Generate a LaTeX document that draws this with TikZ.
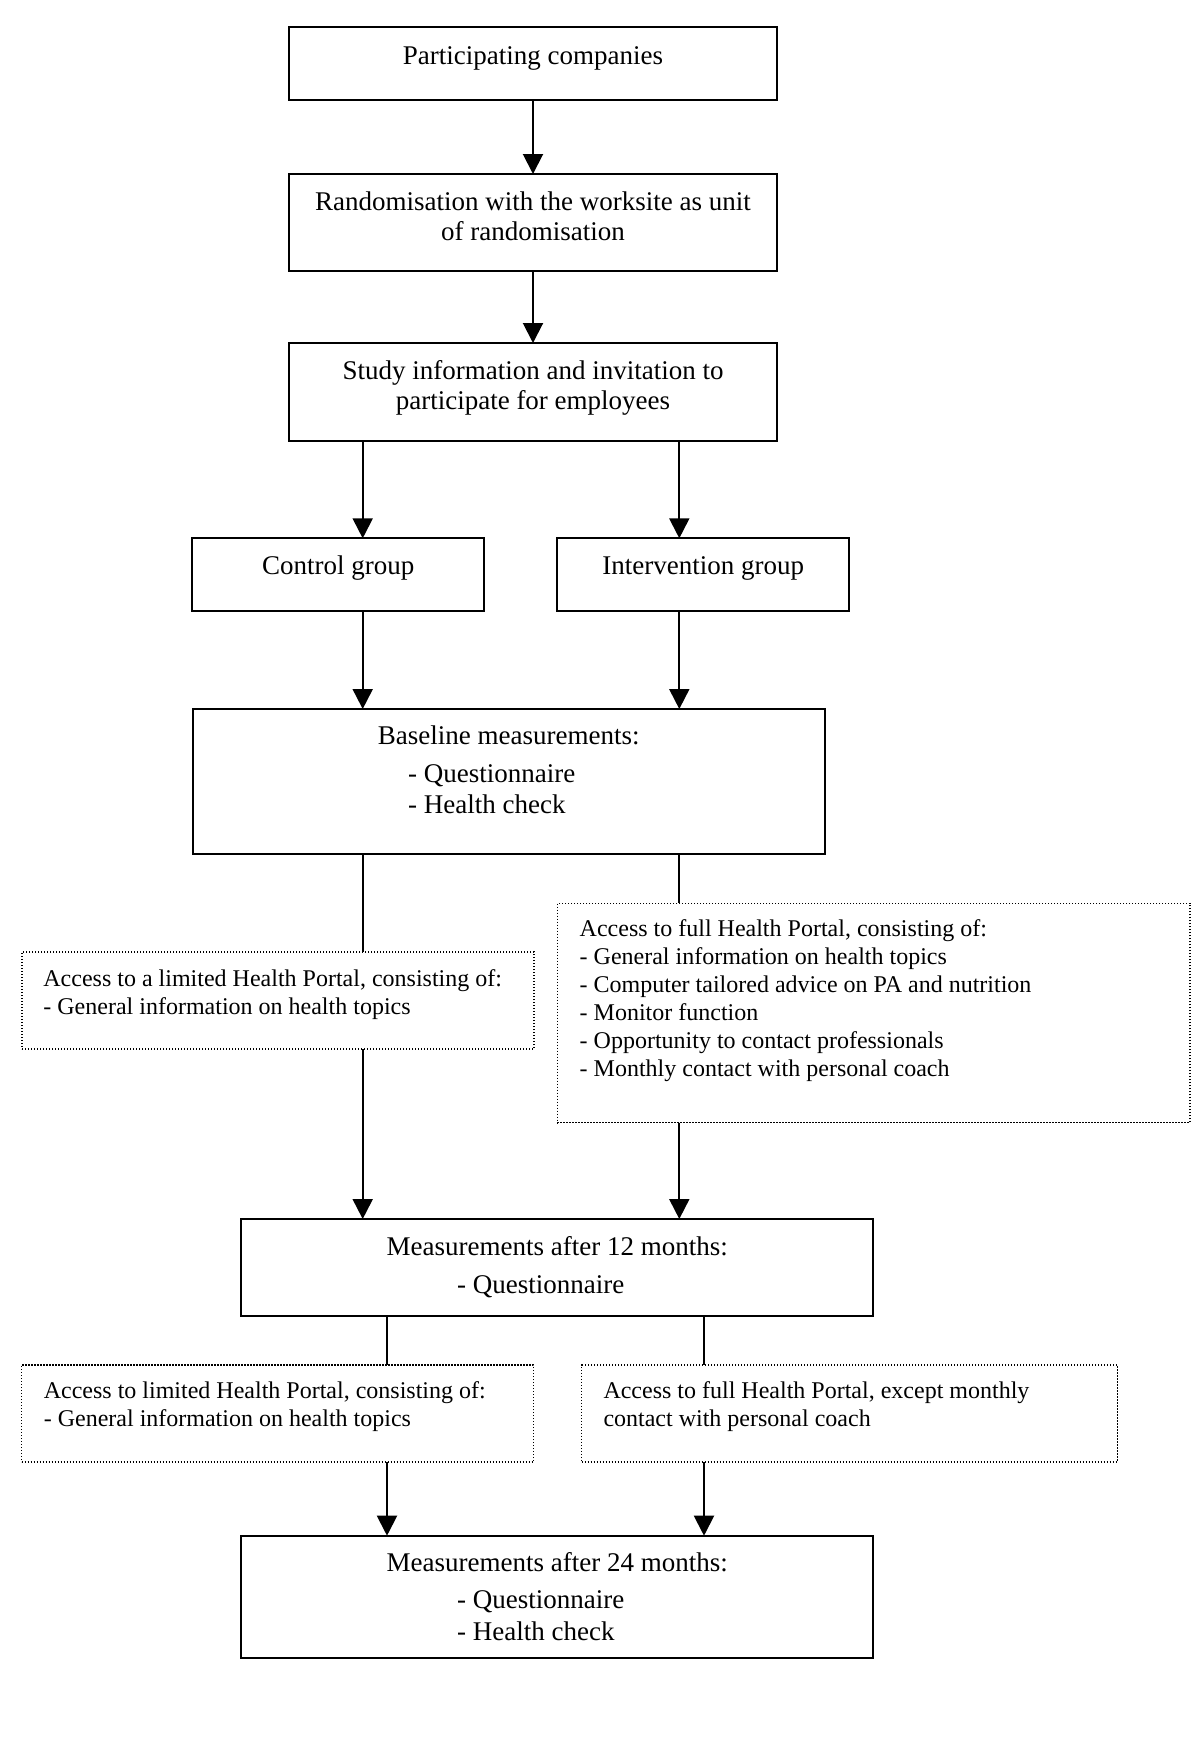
\documentclass[tikz,border=0pt]{standalone}
\usepackage{fontspec}
\setmainfont{Liberation Serif}
\usetikzlibrary{arrows.meta}
\begin{document}
\begin{tikzpicture}[x=1pt,y=-1pt,
  box/.style={draw, line width=2pt, rectangle, inner sep=0pt, outer sep=0pt, anchor=north west},
  dbox/.style={draw, line width=1.4pt, dash pattern=on 1.4pt off 1.6pt, rectangle, inner sep=0pt, outer sep=0pt, anchor=north west},
  conn/.style={line width=2pt},
  arr/.style={line width=2pt, -{Triangle[length=20pt,width=20pt]}},
  ctext/.style={font=\fontsize{27}{30}\selectfont, inner sep=0pt, anchor=base},
  ltext/.style={inner sep=0pt, anchor=base west},
  dtext/.style={font=\fontsize{24}{28}\selectfont, inner sep=0pt, anchor=base west}]
\useasboundingbox (0,0) rectangle (1200,1757);

% columns for connectors
\coordinate (cA) at (533,0);
\coordinate (cL) at (362.7,0);
\coordinate (cR) at (679.3,0);
\coordinate (cL2) at (387,0);
\coordinate (cR2) at (704,0);

% boxes
\node[box, minimum width=487.4pt, minimum height=72.7pt] (b1) at (289.3,27.3) {};
\node[box, minimum width=487.4pt, minimum height=96.7pt] (b2) at (289.3,174) {};
\node[box, minimum width=487.4pt, minimum height=97.7pt] (b3) at (289.3,343) {};
\node[box, minimum width=292pt, minimum height=72.7pt] (ctrl) at (192.3,538.3) {};
\node[box, minimum width=292pt, minimum height=72.7pt] (intv) at (557.3,538.3) {};
\node[box, minimum width=632.5pt, minimum height=145.3pt] (base) at (192.5,709) {};
\node[dbox, minimum width=512pt, minimum height=97pt] (lim1) at (22,952) {};
\node[dbox, minimum width=632.7pt, minimum height=219.4pt] (full1) at (557.3,903.3) {};
\node[box, minimum width=632.3pt, minimum height=97pt] (m12) at (241,1219) {};
\node[dbox, minimum width=512pt, minimum height=97pt] (lim2) at (21.5,1365) {};
\node[dbox, minimum width=535.6pt, minimum height=97pt] (full2) at (581.7,1365) {};
\node[box, minimum width=632.3pt, minimum height=122pt] (m24) at (241,1535.7) {};

% texts
\node[ctext] (t1) at (533,64.3) {Participating companies};
\node[ctext] (t2) at (533,210) {\begin{tabular}[t]{@{}c@{}}Randomisation with the worksite as unit\\ of randomisation\end{tabular}};
\node[ctext] (t3) at (533,379.3) {\begin{tabular}[t]{@{}c@{}}Study information and invitation to\\ participate for employees\end{tabular}};
\node[ctext] (tc) at (338.3,574.3) {Control group};
\node[ctext] (ti) at (703.3,574.3) {Intervention group};
\node[ctext] (tb) at (508.7,744) {Baseline measurements:};
\node[ltext, font=\fontsize{27}{31}\selectfont] (tbl) at (408,782.5) {\begin{tabular}[t]{@{}l@{}}- Questionnaire\\ - Health check\end{tabular}};
\node[dtext] (tl1) at (43.2,986) {\begin{tabular}[t]{@{}l@{}}Access to a limited Health Portal, consisting of:\\ - General information on health topics\end{tabular}};
\node[dtext] (tf1) at (579.5,936.7) {\begin{tabular}[t]{@{}l@{}}Access to full Health Portal, consisting of:\\ - General information on health topics\\ - Computer tailored advice on PA and nutrition\\ - Monitor function\\ - Opportunity to contact professionals\\ - Monthly contact with personal coach\end{tabular}};
\node[ctext] (tm12) at (557.2,1255) {Measurements after 12 months:};
\node[ltext, font=\fontsize{27}{31}\selectfont] (tm12l) at (457,1293.5) {- Questionnaire};
\node[dtext] (tl2) at (43.6,1398.3) {\begin{tabular}[t]{@{}l@{}}Access to limited Health Portal, consisting of:\\ - General information on health topics\end{tabular}};
\node[dtext] (tf2) at (603.3,1398.3) {\begin{tabular}[t]{@{}l@{}}Access to full Health Portal, except monthly\\ contact with personal coach\end{tabular}};
\node[ctext] (tm24) at (557.2,1571.7) {Measurements after 24 months:};
\node[ltext, font=\fontsize{27}{32}\selectfont] (tm24l) at (457,1608.3) {\begin{tabular}[t]{@{}l@{}}- Questionnaire\\ - Health check\end{tabular}};

% connectors
\draw[arr] (b1.south -| cA) -- (b2.north -| cA);
\draw[arr] (b2.south -| cA) -- (b3.north -| cA);
\draw[arr] (b3.south -| cL) -- (ctrl.north -| cL);
\draw[arr] (b3.south -| cR) -- (intv.north -| cR);
\draw[arr] (ctrl.south -| cL) -- (base.north -| cL);
\draw[arr] (intv.south -| cR) -- (base.north -| cR);
\draw[conn] (base.south -| cL) -- (lim1.north -| cL);
\draw[conn] (base.south -| cR) -- (full1.north -| cR);
\draw[arr] (lim1.south -| cL) -- (m12.north -| cL);
\draw[arr] (full1.south -| cR) -- (m12.north -| cR);
\draw[conn] (m12.south -| cL2) -- (lim2.north -| cL2);
\draw[conn] (m12.south -| cR2) -- (full2.north -| cR2);
\draw[arr] (lim2.south -| cL2) -- (m24.north -| cL2);
\draw[arr] (full2.south -| cR2) -- (m24.north -| cR2);
\end{tikzpicture}
\end{document}
